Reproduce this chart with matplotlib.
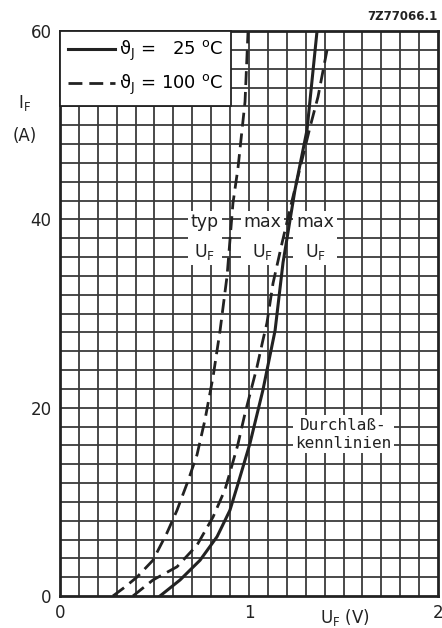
import matplotlib.pyplot as plt
import numpy as np

uf_typ_100 = [0.28, 0.34, 0.407, 0.492, 0.566, 0.619, 0.677, 0.725, 0.767, 0.810, 0.847, 0.884, 0.915, 0.942, 0.979, 0.995]
if_typ_100 = [0.0, 0.9, 2.0, 3.8, 6.7, 9.1, 12.2, 15.0, 18.7, 23.3, 28.2, 34.0, 41.7, 45.5, 52.5, 60.0]

uf_max_100 = [0.386, 0.492, 0.619, 0.725, 0.810, 0.873, 0.899, 0.940, 0.979, 1.042, 1.074, 1.095, 1.127, 1.175, 1.228, 1.323, 1.365, 1.413]
if_max_100 = [0.0, 1.7, 3.1, 5.4, 8.4, 11.3, 13.1, 16.0, 19.4, 24.3, 27.2, 29.0, 33.2, 37.5, 42.0, 49.8, 53.0, 58.0]

uf_max_25 = [0.529, 0.635, 0.741, 0.831, 0.899, 0.937, 1.005, 1.074, 1.138, 1.180, 1.243, 1.307, 1.360]
if_max_25 = [0.0, 1.7, 3.8, 6.3, 9.1, 11.6, 16.2, 21.9, 28.2, 35.4, 43.1, 49.5, 60.0]

x_ticks = [0, 1, 2]
y_ticks = [0, 20, 40, 60]

ink = '#222222'

fig = plt.figure(figsize=(4.42, 6.28), dpi=100)
ax = fig.add_axes([60 / 442, 32 / 628, 378 / 442, 565 / 628])

ax.set_xlim(0, 2)
ax.set_ylim(0, 60)

# Raster: 0.1 V und 2 A
for v in np.arange(0.1, 2.0, 0.1):
    ax.axvline(v, color='#3a3a3a', lw=1.3, zorder=0.5)
for a in np.arange(2, 60, 2):
    ax.axhline(a, color='#3a3a3a', lw=1.3, zorder=0.5)

dash = (5, 2.5)
ax.plot(uf_max_25, if_max_25, color=ink, lw=2.2, zorder=3,
        label='ϑ$_\\mathregular{J}$ =   25 $^\\mathregular{o}$C')
ax.plot(uf_typ_100, if_typ_100, color=ink, lw=2.0, zorder=3,
        dashes=dash, label='ϑ$_\\mathregular{J}$ = 100 $^\\mathregular{o}$C')
ax.plot(uf_max_100, if_max_100, color=ink, lw=2.0, zorder=3, dashes=dash)

leg = ax.legend(loc='upper left', borderaxespad=0, fancybox=False, framealpha=1,
                edgecolor=ink, fontsize=13, handlelength=2.6, handletextpad=0.2,
                borderpad=0.45, labelspacing=0.55)
leg.get_frame().set_linewidth(1.3)
leg.set_zorder(5)

box = dict(facecolor='white', edgecolor='none', pad=2)
for xpos, word in [(0.767, 'typ'), (1.07, 'max'), (1.35, 'max')]:
    ax.text(xpos, 38.1, word + '\nU$_\\mathregular{F}$', ha='center', va='center', fontsize=12.5,
            linespacing=1.75, bbox=box, zorder=2, color=ink)
ax.text(1.5, 17.2, 'Durchlaß-\nkennlinien', ha='center', va='center', fontsize=11.5,
        family='DejaVu Sans Mono', linespacing=1.25, bbox=box, zorder=2, color=ink)

ax.set_xticks(x_ticks)
ax.set_yticks(y_ticks)
ax.tick_params(length=0, labelsize=12, pad=6, colors=ink)
for s in ax.spines.values():
    s.set_linewidth(2.0)
    s.set_color(ink)

fig.text(25 / 442, 1 - 103 / 628, 'I$_\\mathregular{F}$', ha='center', va='center', fontsize=12, color=ink)
fig.text(25 / 442, 1 - 136 / 628, '(A)', ha='center', va='center', fontsize=12, color=ink)
fig.text(345 / 442, 1 - 617 / 628, 'U$_\\mathregular{F}$ (V)', ha='center', va='center', fontsize=12, color=ink)
fig.text(437 / 442, 1 - 16 / 628, '7Z77066.1', ha='right', va='center', fontsize=8.5, weight='bold', color=ink)

fig.savefig('out.png', dpi=100)
